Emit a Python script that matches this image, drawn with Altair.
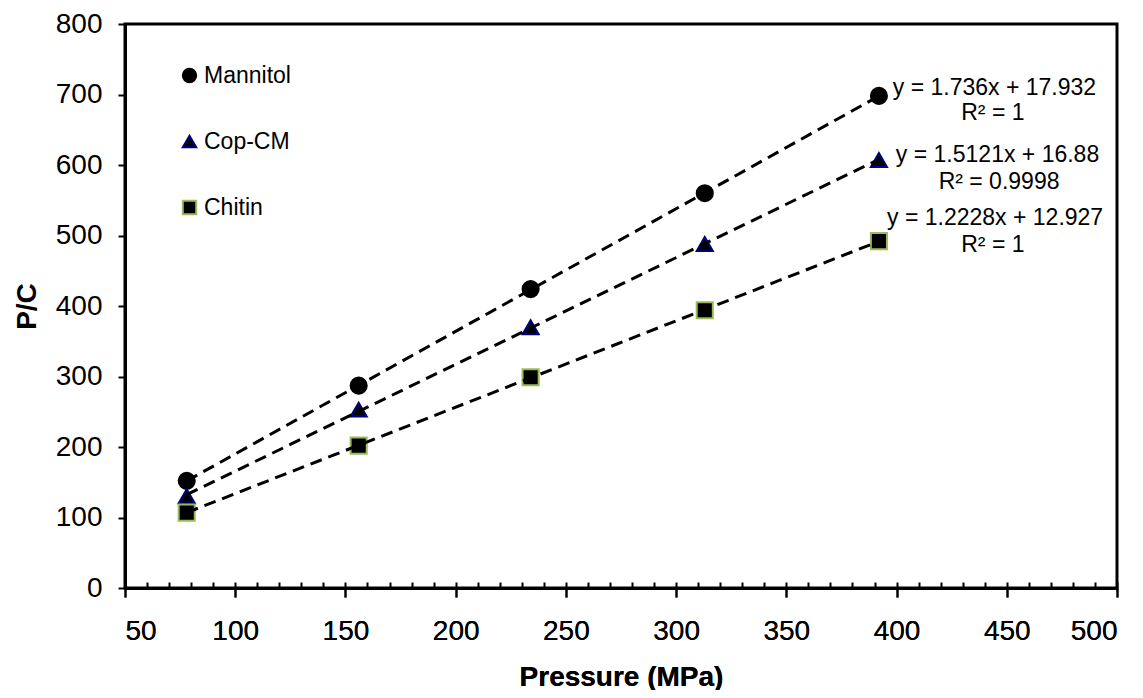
import altair as alt
import pandas as pd

# ---- data ----
pressure = [78, 156, 234, 313, 392]
mannitol = [152, 287, 424, 560, 698]
cop_cm = [130, 253, 370, 488, 607]
chitin = [107, 202, 299, 394, 492]
series_names = ["Mannitol", "Cop-CM", "Chitin"]

eq_text = ["y = 1.736x  + 17.932", "R² = 1",
           "y = 1.5121x  + 16.88", "R² = 0.9998",
           "y = 1.2228x  + 12.927", "R² = 1"]
eq_x = [444.4, 443.7, 445.8, 446.5, 444.7, 443.7]
eq_y = [709, 674, 614, 576, 525, 487]

x_ticks = list(range(50, 501, 50))
x_minor = list(range(50, 501, 10))
y_ticks = list(range(0, 801, 100))

rows = []
for name, vals in zip(series_names, [mannitol, cop_cm, chitin]):
    for p, v in zip(pressure, vals):
        rows.append({"series": name, "x": p, "y": v})
df = pd.DataFrame(rows)
ann = pd.DataFrame({"text": eq_text, "x": eq_x, "y": eq_y})

FONT = "Liberation Sans"
xscale = alt.Scale(domain=[50, 500], nice=False, zero=False)
yscale = alt.Scale(domain=[0, 800], nice=False, zero=False)

main_x_axis = alt.Axis(values=x_ticks, title="Pressure (MPa)", grid=False, orient="bottom",
                       tickSize=9, tickWidth=2, tickColor="black",
                       domainColor="black", domainWidth=3,
                       labelFontSize=28, labelFont=FONT, labelColor="black",
                       labelPadding=20, titleFont=FONT, titleFontSize=28,
                       titleFontWeight="bold", titleColor="black", titlePadding=18)
minor_x_axis = alt.Axis(values=x_minor, labels=False, domain=False, title=None,
                        orient="bottom", grid=False, tickSize=6, tickWidth=2,
                        tickColor="black", offset=-6)
y_axis = alt.Axis(values=y_ticks, title="P/C", grid=False, tickSize=7, tickWidth=2,
                  tickColor="black", domainColor="black", domainWidth=3,
                  labelFontSize=28, labelFont=FONT, labelColor="black",
                  labelPadding=16, titleFont=FONT, titleFontSize=28,
                  titleFontWeight="bold", titleColor="black", titlePadding=14)

leg = dict(title=None, orient="none", legendX=53, legendY=40,
           labelFont=FONT, labelFontSize=23, labelColor="black",
           labelOffset=3, rowPadding=42, symbolSize=180,
           symbolStrokeWidth=2, symbolFillColor="black", symbolOpacity=1)

points = alt.Chart(df).mark_point(filled=True, fill="black", size=260,
                                  strokeWidth=2, opacity=1).encode(
    x=alt.X("x:Q", scale=xscale, axis=main_x_axis),
    y=alt.Y("y:Q", scale=yscale, axis=y_axis),
    shape=alt.Shape("series:N",
                    scale=alt.Scale(domain=series_names,
                                    range=["circle", "triangle-up", "square"]),
                    legend=alt.Legend(**leg)),
    stroke=alt.Stroke("series:N",
                      scale=alt.Scale(domain=series_names,
                                      range=["#000000", "#000080", "#9BBB59"]),
                      legend=alt.Legend(**leg)),
)

lines = alt.Chart(df).transform_regression(
    "x", "y", groupby=["series"]
).mark_line(color="black", strokeWidth=3, strokeDash=[12, 7]).encode(
    x=alt.X("x:Q", scale=xscale, axis=main_x_axis),
    y=alt.Y("y:Q", scale=yscale, axis=y_axis),
    detail="series:N",
)

texts = alt.Chart(ann).mark_text(font=FONT, fontSize=23, color="black",
                                 align="center", baseline="middle").encode(
    x=alt.X("x:Q", scale=xscale, axis=minor_x_axis),
    y=alt.Y("y:Q", scale=yscale, axis=y_axis),
    text="text:N",
)

chart = alt.layer(points, lines, texts).resolve_axis(x="independent").properties(
    width=992, height=564,
    autosize=alt.AutoSizeParams(type="none"),
    padding={"left": 117, "top": 16, "right": 10, "bottom": 102},
).configure(background="white").configure_view(stroke="black", strokeWidth=3)

chart.save("out.html", embed_options={"renderer": "svg", "actions": False})
